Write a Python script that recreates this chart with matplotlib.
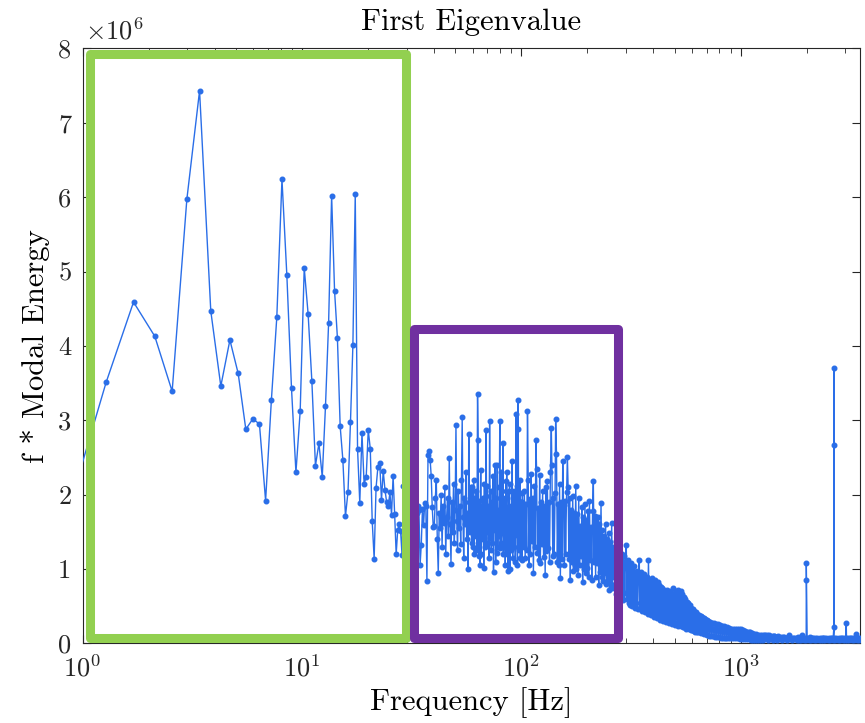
import numpy as np
import matplotlib.pyplot as plt
from matplotlib.patches import Rectangle
from matplotlib.ticker import FixedLocator, FuncFormatter

plt.rcParams['font.family'] = 'cmr10'
plt.rcParams['mathtext.fontset'] = 'cm'
plt.rcParams['axes.formatter.use_mathtext'] = True

df = 0.427  # frequency resolution [Hz]

# f * modal energy, in units of 1e6
# bins 2..139 (every bin)
energy_low = [
    1.75, 3.51, 4.59, 4.13, 3.39, 5.97, 7.43, 4.47, 3.46, 4.08,
    3.63, 2.88, 3.02, 2.95, 1.92, 3.27, 4.39, 6.24, 4.95, 3.43,
    2.30, 3.12, 5.05, 4.43, 3.53, 2.39, 2.69, 2.24, 3.19, 4.31,
    6.02, 4.74, 4.11, 2.92, 2.47, 1.71, 2.04, 2.98, 4.01, 6.04,
    2.62, 1.89, 2.83, 2.15, 2.24, 2.87, 2.62, 1.64, 1.14, 2.09,
    2.37, 2.43, 1.93, 2.32, 2.07, 1.90, 1.85, 2.03, 1.73, 2.25,
    1.74, 1.20, 1.52, 1.60, 1.51, 1.19, 2.12,
    1.70, 1.95, 1.55, 2.10, 1.80, 1.45, 1.90, 2.05, 1.60, 1.75, 1.85,
    1.80, 1.06, 1.33, 1.81, 1.59, 1.89, 1.85, 0.84, 2.54, 2.59,
    2.47, 2.25, 1.83, 1.56, 1.58, 1.95, 2.20, 1.40, 0.95, 1.75,
    1.55, 2.00, 1.30, 1.85, 1.62, 2.10, 1.20, 1.70, 1.95, 1.45,
    2.49, 1.60, 1.07, 1.90, 1.50, 2.15, 1.35, 1.80, 2.94, 1.65,
    1.25, 2.05, 1.55, 1.85, 1.34, 2.20, 3.04, 1.70, 1.15, 1.95,
    1.60, 2.30, 1.40, 1.75, 1.00, 2.81, 1.90, 1.50, 2.10, 1.35,
]

# bins 140..239 (every bin)
energy_mid = [
    2.10, 1.30, 2.20, 1.20, 1.95, 1.45, 2.05, 1.25, 3.35, 2.74,
    1.18, 1.92, 1.05, 2.33, 1.20, 1.85, 1.40, 1.95, 1.02, 2.15,
    1.30, 1.98, 2.87, 1.35, 2.12, 1.50, 1.85, 1.15, 2.99, 1.42,
    2.05, 1.25, 1.90, 1.35, 2.25, 0.96, 1.78, 1.52, 2.40, 1.10,
    1.95, 1.22, 2.40, 1.30, 1.80, 1.45, 2.10, 2.99, 1.28, 2.30,
    1.35, 2.05, 1.48, 2.70, 1.20, 1.92, 1.30, 1.95, 1.05, 2.18,
    1.42, 2.30, 1.20, 1.84, 0.98, 2.05, 1.35, 2.15, 1.00, 1.74,
    1.25, 1.85, 1.38, 2.45, 1.15, 1.96, 1.50, 2.05, 1.30, 1.88,
    1.10, 1.80, 3.09, 1.46, 2.12, 1.06, 3.27, 2.88, 1.25, 1.92,
    1.30, 2.20, 1.15, 1.76, 1.35, 1.90, 1.12, 2.02, 1.40, 1.84,
]

# bins 240..1640, log-spaced subset (about 100-700 Hz)
energy_high = [
    1.30, 2.05, 1.15, 1.88, 1.25, 3.13, 2.20, 1.05, 1.94, 1.20,
    2.28, 1.38, 1.96, 0.95, 2.12, 1.30, 2.73, 2.35, 1.22, 1.82,
    1.12, 2.26, 1.08, 1.90, 1.34, 2.05, 1.16, 1.85, 0.92, 2.10,
    1.24, 2.18, 1.28, 1.90, 1.10, 2.30, 2.90, 2.40, 1.18, 1.96,
    1.20, 2.02, 3.02, 2.55, 1.10, 1.88, 1.05, 2.14, 0.88, 1.90,
    1.14, 2.45, 1.86, 1.05, 1.92, 1.20, 2.04, 2.51, 2.10, 1.14,
    1.96, 0.86, 1.80, 1.10, 1.98, 0.98, 1.75, 1.05, 2.12, 1.00,
    1.74, 0.92, 1.96, 1.05, 1.58, 1.18, 1.84, 0.82, 1.70, 1.00,
    1.88, 0.95, 1.66, 1.02, 1.78, 0.90, 1.92, 1.12, 1.56, 0.85,
    1.78, 2.19, 1.10, 1.72, 0.90, 1.64, 1.08, 1.70, 0.78, 1.60,
    0.96, 1.89, 0.90, 1.52, 0.84, 1.44, 0.95, 1.60, 0.80, 1.40,
    0.85, 1.48, 0.72, 1.36, 0.80, 1.62, 0.75, 1.30, 0.90, 1.26,
    0.66, 1.38, 0.74, 1.22, 0.62, 1.26, 0.70, 1.18, 0.64, 1.20,
    0.58, 1.18, 0.68, 1.10, 1.33, 0.60, 1.12, 0.55, 1.06, 0.52,
    1.08, 0.50, 1.00, 0.56, 1.04, 0.48, 0.96, 0.54, 0.98, 0.46,
    0.92, 1.12, 0.48, 0.96, 0.44, 0.90, 0.50, 0.94, 0.42, 0.88,
    0.44, 0.90, 0.40, 1.12, 0.46, 0.86, 0.38, 0.88, 0.40, 0.84,
    0.36, 0.86, 0.40, 0.80, 0.34, 0.82, 0.38, 0.78, 0.32, 0.76,
    0.34, 0.74, 0.30, 0.72, 0.33, 0.70, 0.29, 0.72, 0.30, 0.68,
    0.28, 0.70, 0.30, 0.66, 0.26, 0.74, 0.28, 0.68, 0.25, 0.70,
    0.27, 0.72, 0.24, 0.68, 0.26, 0.70, 0.23, 0.66, 0.22, 0.62,
    0.22, 0.60, 0.20, 0.56, 0.22, 0.54, 0.19, 0.52, 0.18, 0.48,
    0.18, 0.46, 0.17, 0.44, 0.16, 0.42, 0.16, 0.40, 0.15, 0.38,
    0.15, 0.37, 0.14, 0.36, 0.14, 0.34, 0.13, 0.33, 0.13, 0.32,
]

# bins 1650..8195, log-spaced subset (about 700-3500 Hz)
energy_tail = [
    0.11, 0.30, 0.10, 0.29, 0.10, 0.28, 0.10, 0.27, 0.09, 0.26,
    0.09, 0.26, 0.09, 0.25, 0.08, 0.24, 0.08, 0.23, 0.08, 0.22,
    0.08, 0.22, 0.07, 0.21, 0.07, 0.20, 0.07, 0.20, 0.07, 0.19,
    0.07, 0.19, 0.07, 0.19, 0.06, 0.19, 0.06, 0.18, 0.06, 0.17,
    0.06, 0.16, 0.06, 0.15, 0.06, 0.15, 0.05, 0.14, 0.05, 0.13,
    0.05, 0.13, 0.05, 0.12, 0.05, 0.12, 0.05, 0.11, 0.05, 0.11,
    0.12, 0.08, 0.11, 0.05, 0.12, 0.09, 0.06, 0.10, 0.05, 0.10,
    0.10, 0.07, 0.09, 0.05, 0.10, 0.08, 0.06, 0.09, 0.05, 0.09,
    0.09, 0.06, 0.08, 0.05, 0.09, 0.12, 0.06, 0.08, 0.05, 0.08,
    0.08, 0.06, 0.08, 0.04, 0.09, 0.07, 0.05, 0.08, 0.04, 0.11,
    0.07, 0.05, 0.08, 0.04, 0.07, 0.06, 0.05, 0.09, 0.04, 0.07,
    0.08, 0.05, 0.07, 0.04, 0.08, 0.06, 0.05, 0.07, 0.04, 0.08,
    0.07, 0.05, 0.08, 0.04, 0.07, 0.06, 0.04, 0.08, 0.05, 0.07,
    0.08, 0.05, 0.07, 0.04, 0.07, 0.06, 0.05, 0.08, 0.04, 0.07,
    0.07, 0.05, 0.08, 0.04, 0.07, 0.06, 0.05, 0.07, 0.04, 0.08,
    0.07, 0.05, 0.08, 0.04, 0.07, 0.13, 0.05, 0.07, 0.04, 0.07,
]

# isolated peaks at high frequency
peak_freq = [1992.0, 1992.4, 2661.0, 2661.4, 2661.8, 3030.0]
peak_energy = [0.86, 1.08, 0.22, 3.70, 2.67, 0.28]

k_low = np.arange(2, 2 + len(energy_low))
k_mid = np.arange(140, 140 + len(energy_mid))
k_high = np.round(np.geomspace(240, 1640, len(energy_high)))
k_tail = np.round(np.geomspace(1650, 8195, len(energy_tail)))

freq = np.concatenate([df * k_low, df * k_mid, df * k_high, df * k_tail, peak_freq])
energy = np.concatenate([energy_low, energy_mid, energy_high, energy_tail,
                         peak_energy]) * 1e6
order = np.argsort(freq, kind='stable')
freq, energy = freq[order], energy[order]

fig = plt.figure(figsize=(8.65, 7.23), dpi=100)
ax = fig.add_axes([0.0954, 0.110, 0.8988, 0.823])

ax.plot(freq, energy, '-o', color='#2a6ee8', lw=1.0, ms=3.3, zorder=3)

ax.set_xscale('log')
ax.set_xlim(1, 3500)
ax.set_ylim(0, 8e6)

# highlight boxes
green = Rectangle((1.087, 0.08e6), 29.8 - 1.087, 7.92e6 - 0.08e6, fill=False,
                  ec='#92d050', lw=6.5, joinstyle='round', clip_on=False, zorder=4)
purple = Rectangle((32.4, 0.08e6), 275 - 32.4, 4.23e6 - 0.08e6, fill=False,
                   ec='#7030a0', lw=6.5, joinstyle='round', clip_on=False, zorder=4)
ax.add_patch(green)
ax.add_patch(purple)

ax.yaxis.set_major_locator(FixedLocator(np.arange(0, 9) * 1e6))
ax.yaxis.set_major_formatter(FuncFormatter(lambda v, p: f'{v / 1e6:g}'))
ax.tick_params(which='both', direction='in', top=True, right=True,
               colors='#262626', labelsize=19)
ax.tick_params(which='major', length=6, pad=8)
ax.tick_params(which='minor', length=3.5)
for s in ax.spines.values():
    s.set_color('#262626')
    s.set_linewidth(0.8)

ax.text(0.003, 1.006, r'$\times10^{6}$', transform=ax.transAxes,
        fontsize=19, color='#262626', va='bottom', ha='left')
ax.set_title('First Eigenvalue', fontsize=22, pad=13)
ax.set_xlabel('Frequency [Hz]', fontsize=22, labelpad=4)
ax.set_ylabel('f * Modal Energy', fontsize=22, labelpad=6)

fig.savefig('out.png', dpi=100)
